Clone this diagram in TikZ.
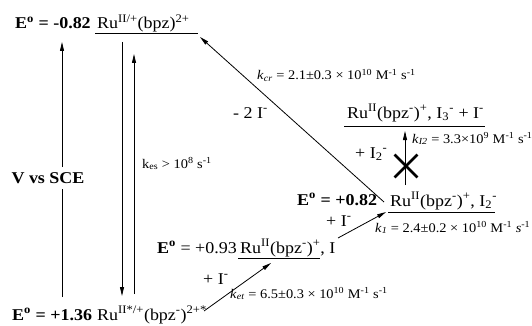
\documentclass[tikz,border=0pt]{standalone}
\usepackage{fontspec}
\setmainfont{Liberation Serif}
\usetikzlibrary{arrows.meta,shapes.misc}
\newcommand{\hs}[1]{\scalebox{1.09}[1]{#1}}
\newcommand{\Eo}{E\textsuperscript{o}}
\begin{document}
\begin{tikzpicture}[x=1pt,y=-1pt,
  big/.style={inner sep=0pt, anchor=base west, font=\fontsize{16.5}{19}\selectfont},
  small/.style={inner sep=0pt, anchor=base west, font=\fontsize{13.2}{15}\selectfont},
  conn/.style={line width=0.8pt},
  arr/.style={conn, -{Triangle[length=9pt,width=4pt]}},
  lev/.style={line width=0.8pt}]
\useasboundingbox (0,0) rectangle (532,326);

% ---- top level
\node[big] (e1) at (15,29) {\hs{\bfseries \Eo\ = -0.82}};
\node[big] (r1) at (97,29) {\hs{Ru\textsuperscript{II/+}(bpz)\textsuperscript{2+}}};
\coordinate (u1a) at (95,33);
\coordinate (u1b) at (198,33);
\draw[lev] (u1a) -- (u1b);

% ---- V vs SCE axis
\node[inner xsep=0pt, inner ysep=5pt, font=\fontsize{16.5}{19}\selectfont\bfseries] (vs) at (48,178) {\hs{V vs SCE}};
\coordinate (vbot) at (62,297);
\coordinate (vtop) at (62,42);
\draw[conn] (vbot) -- (vbot |- vs.south);
\draw[arr] (vtop |- vs.north) -- (vtop);

% ---- double vertical arrows
\coordinate (dl1) at (122,42);
\coordinate (dl2) at (122,296);
\draw[arr] (dl1) -- (dl2);
\coordinate (dr1) at (134,294);
\coordinate (dr2) at (134,54);
\draw[arr] (dr1) -- (dr2);
\node[small] (kes) at (142,168) {\hs{k\textsubscript{es} > 10\textsuperscript{8} s\textsuperscript{-1}}};

% ---- bottom level
\node[big] (e4) at (12,320) {\hs{\bfseries \Eo\ = +1.36}};
\node[big] (r4) at (97,320) {\hs{Ru\textsuperscript{II*/+}(bpz\textsuperscript{-})\textsuperscript{2+*}}};

% ---- lower intermediate
\node[big] (e2) at (157,253) {\hs{\textbf{\Eo} = +0.93}};
\node[big] (r2) at (240,253) {\hs{Ru\textsuperscript{II}(bpz\textsuperscript{-})\textsuperscript{+}, I}};
\coordinate (u2a) at (238,258);
\coordinate (u2b) at (320,258);
\draw[lev] (u2a) -- (u2b);

\coordinate (a1s) at (204,311);
\coordinate (a1e) at (271,263);
\draw[arr] (a1s) -- (a1e);
\node[big] (p1) at (203,284) {\hs{+ I\textsuperscript{-}}};
\node[small] (ket) at (230,298) {\hs{\textit{k}\textsubscript{\textit{et}} = 6.5±0.3 × 10\textsuperscript{10} M\textsuperscript{-1} s\textsuperscript{-1}}};

% ---- middle intermediate
\node[big] (e3) at (297,205) {\hs{\bfseries \Eo\ = +0.82}};
\node[big] (r3) at (390,206) {\hs{Ru\textsuperscript{II}(bpz\textsuperscript{-})\textsuperscript{+}, I\textsubscript{2}\textsuperscript{-}}};
\coordinate (u3a) at (388,212);
\coordinate (u3b) at (495,212);
\draw[lev] (u3a) -- (u3b);

\coordinate (a2s) at (338,238);
\coordinate (a2e) at (386,212);
\draw[arr] (a2s) -- (a2e);
\node[big] (p2) at (326,226) {\hs{+ I\textsuperscript{-}}};
\node[small] (k1) at (375,232) {\hs{\textit{k}\textsubscript{\textit{1}} = 2.4±0.2 × 10\textsuperscript{10} M\textsuperscript{-1} \textit{s}\textsuperscript{-1}}};

% ---- back reaction
\coordinate (a3s) at (384,202);
\coordinate (a3e) at (200,37);
\draw[arr] (a3s) -- (a3e);
\node[big] (m2i) at (233,118) {\hs{- 2 I\textsuperscript{-}}};
\node[small] (kcr) at (257,80) {\hs{\textit{k}\textsubscript{\textit{cr}} = 2.1±0.3 × 10\textsuperscript{10} M\textsuperscript{-1} s\textsuperscript{-1}}};

% ---- top right (blocked)
\node[big] (r5) at (347,118) {\hs{Ru\textsuperscript{II}(bpz\textsuperscript{-})\textsuperscript{+}, I\textsubscript{3}\textsuperscript{-} + I\textsuperscript{-}}};
\coordinate (u5a) at (344,126);
\coordinate (u5b) at (485,126);
\draw[lev] (u5a) -- (u5b);

\coordinate (a4s) at (405,185);
\coordinate (a4e) at (405,131);
\draw[arr] (a4s) -- (a4e);
\node[cross out, draw, line width=2.8pt, minimum size=20pt, inner sep=0pt] (xx) at (406,166) {};
\node[big] (p3) at (355,158) {\hs{+ I\textsubscript{2}\textsuperscript{-}}};
\node[small] (ki2) at (412,143) {\hs{\textit{k}\textsubscript{\textit{I2}} = 3.3×10\textsuperscript{9} M\textsuperscript{-1} s\textsuperscript{-1}}};
\end{tikzpicture}
\end{document}
